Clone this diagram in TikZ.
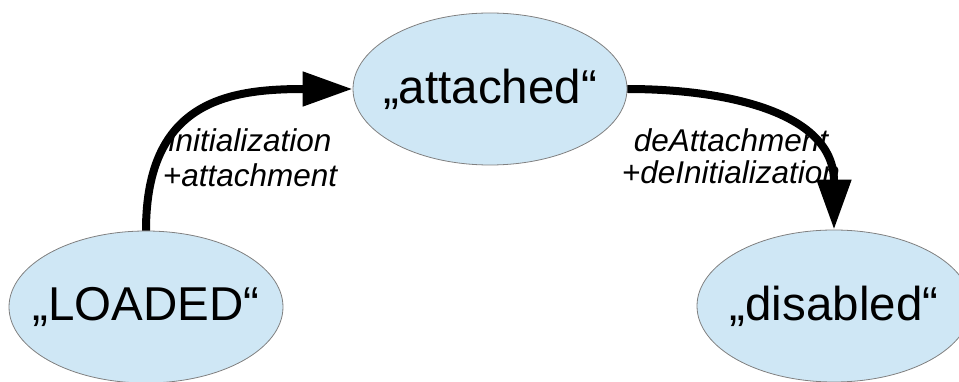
\documentclass[tikz,border=0pt]{standalone}
\usepackage{fontspec}
\setmainfont{Liberation Sans}
\usetikzlibrary{shapes.geometric,arrows.meta}
\definecolor{statefill}{HTML}{CFE7F5}
\definecolor{stateline}{HTML}{808080}
\newcommand{\zerow}[1]{\makebox[0pt][c]{#1}}
\tikzset{
  state/.style={ellipse, draw=stateline, line width=0.8pt, fill=statefill,
    minimum width=274pt, minimum height=152pt, inner sep=0pt,
    font=\fontsize{47.5}{57}\selectfont},
  trans/.style={line width=8pt, -{Triangle[length=50pt,width=33pt]}},
  lbl/.style={anchor=base, inner sep=0pt, font=\fontsize{31.5}{35}\selectfont\itshape}
}
\begin{document}
\begin{tikzpicture}[x=1pt,y=-1pt]
\useasboundingbox (0,0) rectangle (959,382);
\node[state] (L) at (146,307) {\zerow{„LOADED“}};
\node[state] (A) at (490,89) {\zerow{„attached“}};
\node[state] (D) at (834,306) {\zerow{„disabled“}};
\draw[trans] (L) .. controls (146,100) and (230,89) .. (A);
\draw[trans] (A) .. controls (720,89) and (834,110) .. (D);
\node[lbl] (l1a) at (250,152) {initialization};
\node[lbl] (l1b) at (250,187) {+attachment};
\node[lbl] (l2a) at (731,152) {deAttachment};
\node[lbl] (l2b) at (731,184) {+deInitialization};
\end{tikzpicture}
\end{document}
